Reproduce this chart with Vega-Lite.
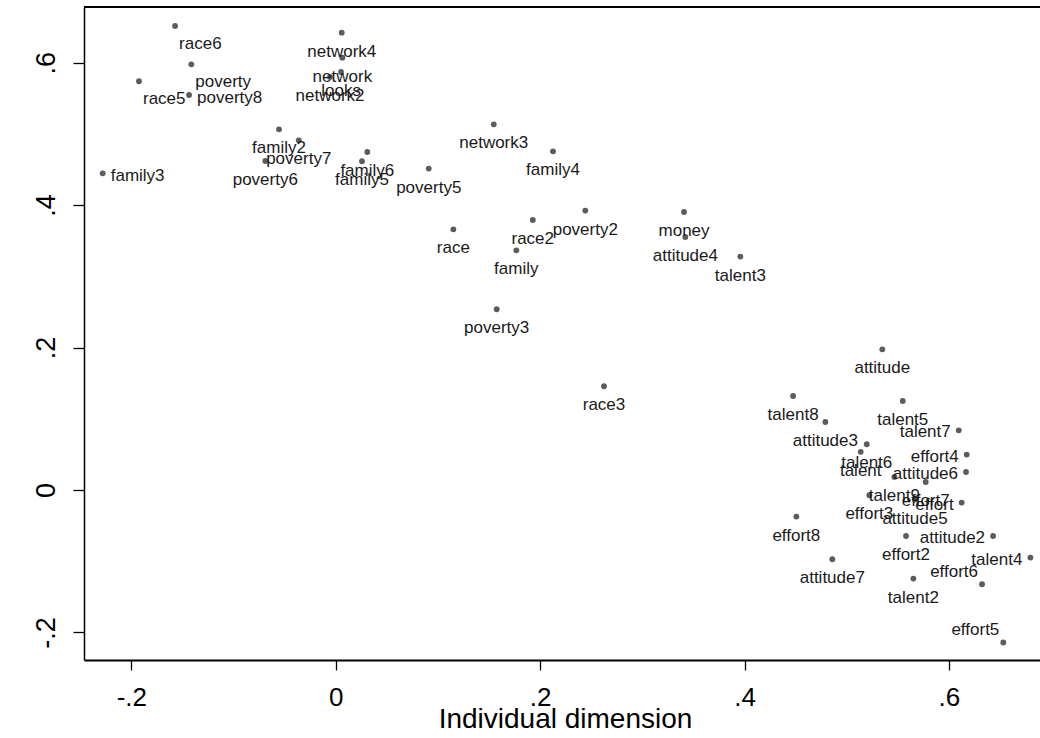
{
  "$schema": "https://vega.github.io/schema/vega-lite/v6.json",
  "width": 956,
  "height": 653,
  "autosize": {"type": "none"},
  "padding": {"left": 84, "top": 7, "right": 0, "bottom": 78},
  "background": "white",
  "config": {"view": {"stroke": null}, "font": "Liberation Sans"},
  "data": {
    "values": [
      {"label": "race6", "x": -0.1572, "y": 0.6514},
      {"label": "poverty", "x": -0.1413, "y": 0.5976},
      {"label": "race5", "x": -0.1925, "y": 0.5738},
      {"label": "poverty8", "x": -0.1435, "y": 0.5545},
      {"label": "network4", "x": 0.0059, "y": 0.6421},
      {"label": "network", "x": 0.0065, "y": 0.6070},
      {"label": "looks", "x": 0.0052, "y": 0.5868},
      {"label": "network2", "x": -0.0056, "y": 0.5798},
      {"label": "family2", "x": -0.0555, "y": 0.5064},
      {"label": "poverty7", "x": -0.0362, "y": 0.4909},
      {"label": "poverty6", "x": -0.0689, "y": 0.4619},
      {"label": "family3", "x": -0.2280, "y": 0.4446},
      {"label": "family6", "x": 0.0309, "y": 0.4745},
      {"label": "family5", "x": 0.0257, "y": 0.4615},
      {"label": "network3", "x": 0.1546, "y": 0.5134},
      {"label": "family4", "x": 0.2126, "y": 0.4755},
      {"label": "poverty5", "x": 0.0910, "y": 0.4512},
      {"label": "race", "x": 0.1151, "y": 0.3660},
      {"label": "race2", "x": 0.1928, "y": 0.3791},
      {"label": "poverty2", "x": 0.2442, "y": 0.3923},
      {"label": "family", "x": 0.1767, "y": 0.3365},
      {"label": "money", "x": 0.3408, "y": 0.3903},
      {"label": "attitude4", "x": 0.3421, "y": 0.3552},
      {"label": "talent3", "x": 0.3959, "y": 0.3277},
      {"label": "poverty3", "x": 0.1575, "y": 0.2537},
      {"label": "race3", "x": 0.2625, "y": 0.1456},
      {"label": "attitude", "x": 0.5348, "y": 0.1975},
      {"label": "talent8", "x": 0.4475, "y": 0.1320},
      {"label": "attitude3", "x": 0.4791, "y": 0.0955},
      {"label": "talent5", "x": 0.5548, "y": 0.1249},
      {"label": "talent7", "x": 0.6096, "y": 0.0838},
      {"label": "effort4", "x": 0.6174, "y": 0.0497},
      {"label": "attitude6", "x": 0.6167, "y": 0.0253},
      {"label": "talent6", "x": 0.5196, "y": 0.0642},
      {"label": "talent", "x": 0.5137, "y": 0.0536},
      {"label": "talent9", "x": 0.5466, "y": 0.0183},
      {"label": "effort7", "x": 0.5773, "y": 0.0112},
      {"label": "effort3", "x": 0.5221, "y": -0.0074},
      {"label": "attitude5", "x": 0.5668, "y": -0.0135},
      {"label": "effort", "x": 0.6125, "y": -0.0177},
      {"label": "effort8", "x": 0.4507, "y": -0.0373},
      {"label": "effort2", "x": 0.5580, "y": -0.0646},
      {"label": "attitude2", "x": 0.6432, "y": -0.0646},
      {"label": "talent4", "x": 0.6797, "y": -0.0949},
      {"label": "attitude7", "x": 0.4859, "y": -0.0973},
      {"label": "talent2", "x": 0.5652, "y": -0.1244},
      {"label": "effort6", "x": 0.6324, "y": -0.1324},
      {"label": "effort5", "x": 0.6532, "y": -0.2141}
    ]
  },
  "layer": [
    {
      "mark": {"type": "rule", "color": "black", "strokeWidth": 1.3},
      "encoding": {"y": {"datum": 0.6781, "type": "quantitative", "scale": {"domain": [-0.2387, 0.6781], "nice": false, "zero": false}}}
    },
    {
      "mark": {"type": "circle", "size": 34, "color": "#5c5c5c", "opacity": 1},
      "encoding": {
        "x": {
          "field": "x", "type": "quantitative",
          "scale": {"domain": [-0.2463, 0.6891], "nice": false, "zero": false},
          "axis": {
            "values": [-0.2, 0, 0.2, 0.4, 0.6],
            "labelExpr": "datum.value < -0.1 ? '-.2' : datum.value < 0.1 ? '0' : datum.value < 0.3 ? '.2' : datum.value < 0.5 ? '.4' : '.6'",
            "grid": false,
            "domainColor": "black", "domainWidth": 2,
            "tickColor": "black", "tickWidth": 1.3, "tickSize": 10,
            "labelFontSize": 26, "labelColor": "black", "labelPadding": 14,
            "title": "Individual dimension",
            "titleFontSize": 28, "titleFontWeight": "normal", "titleColor": "black",
            "titleX": 481, "titleY": 67, "titleAlign": "center", "titleBaseline": "alphabetic"
          }
        },
        "y": {
          "field": "y", "type": "quantitative",
          "scale": {"domain": [-0.2387, 0.6781], "nice": false, "zero": false},
          "axis": {
            "values": [-0.2, 0, 0.2, 0.4, 0.6],
            "labelExpr": "datum.value < -0.1 ? '-.2' : datum.value < 0.1 ? '0' : datum.value < 0.3 ? '.2' : datum.value < 0.5 ? '.4' : '.6'",
            "grid": false,
            "domainColor": "black", "domainWidth": 1.5,
            "tickColor": "black", "tickWidth": 1.3, "tickSize": 11,
            "labelFontSize": 27, "labelColor": "black", "labelPadding": 13,
            "labelAngle": 270, "labelAlign": "center", "labelBaseline": "bottom",
            "title": null
          }
        }
      }
    },
    {
      "transform": [{"filter": {"not": {"field": "label", "oneOf": ["race6", "poverty", "race5", "poverty8", "family3", "talent7", "effort4", "attitude6", "effort", "attitude2", "talent4", "effort6", "effort5"]}}}],
      "mark": {"type": "text", "align": "center", "baseline": "middle", "dy": 19, "fontSize": 17, "color": "#1a1a1a"},
      "encoding": {
        "x": {"field": "x", "type": "quantitative"},
        "y": {"field": "y", "type": "quantitative"},
        "text": {"field": "label"}
      }
    },
    {
      "transform": [{"filter": {"field": "label", "oneOf": ["race6", "poverty", "race5"]}}],
      "mark": {"type": "text", "align": "left", "baseline": "middle", "dx": 4, "dy": 18, "fontSize": 17, "color": "#1a1a1a"},
      "encoding": {
        "x": {"field": "x", "type": "quantitative"},
        "y": {"field": "y", "type": "quantitative"},
        "text": {"field": "label"}
      }
    },
    {
      "transform": [{"filter": {"field": "label", "oneOf": ["poverty8", "family3"]}}],
      "mark": {"type": "text", "align": "left", "baseline": "middle", "dx": 8, "dy": 3, "fontSize": 17, "color": "#1a1a1a"},
      "encoding": {
        "x": {"field": "x", "type": "quantitative"},
        "y": {"field": "y", "type": "quantitative"},
        "text": {"field": "label"}
      }
    },
    {
      "transform": [{"filter": {"field": "label", "oneOf": ["talent7", "effort4", "attitude6", "effort", "attitude2", "talent4"]}}],
      "mark": {"type": "text", "align": "right", "baseline": "middle", "dx": -8, "dy": 2, "fontSize": 17, "color": "#1a1a1a"},
      "encoding": {
        "x": {"field": "x", "type": "quantitative"},
        "y": {"field": "y", "type": "quantitative"},
        "text": {"field": "label"}
      }
    },
    {
      "transform": [{"filter": {"field": "label", "oneOf": ["effort6", "effort5"]}}],
      "mark": {"type": "text", "align": "right", "baseline": "middle", "dx": -4, "dy": -12, "fontSize": 17, "color": "#1a1a1a"},
      "encoding": {
        "x": {"field": "x", "type": "quantitative"},
        "y": {"field": "y", "type": "quantitative"},
        "text": {"field": "label"}
      }
    }
  ]
}
